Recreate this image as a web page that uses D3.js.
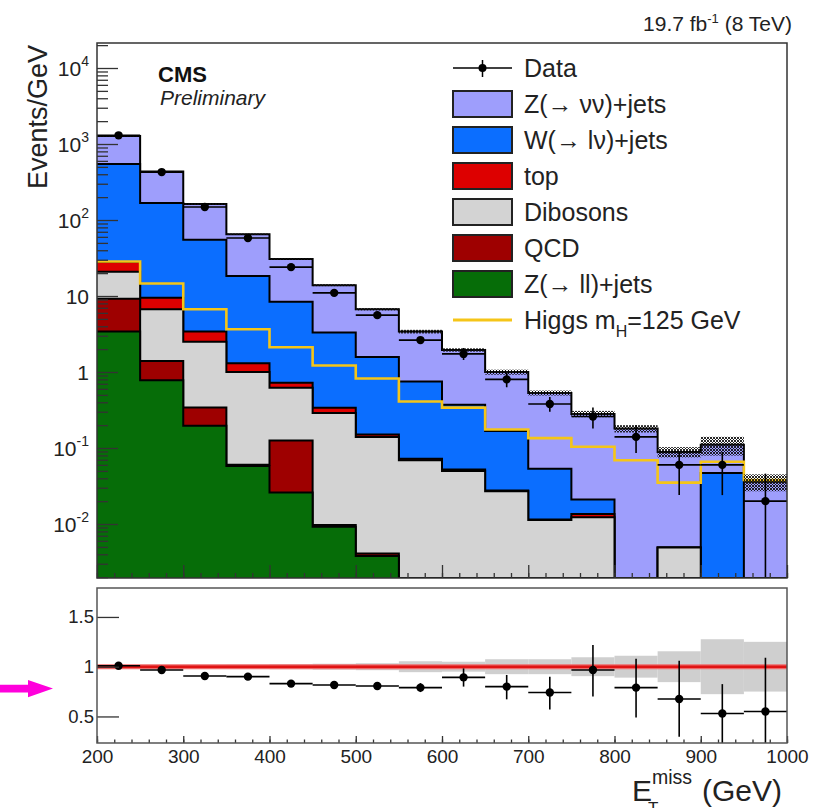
<!DOCTYPE html>
<html>
<head>
<meta charset="utf-8">
<script src="https://cdn.jsdelivr.net/npm/d3@7"></script>
<style>
  body { margin: 0; background: #fff; }
  svg { display: block; font-family: "Liberation Sans", Arial, Helvetica, sans-serif; }
</style>
</head>
<body>
<svg id="chart" width="818" height="808"></svg>
<script>
// ---- data: E_T^miss bins (GeV) and Events/GeV per process ----
const binEdges = [200, 250, 300, 350, 400, 450, 500, 550, 600, 650, 700, 750, 800, 850, 900, 950, 1000];

const zll      = [3.4, 0.78, 0.196, 0.058, 0.026, 0.0092, 0.0038, 0, 0, 0, 0, 0, 0, 0, 0, 0];
const qcd      = [5.8, 0.62, 0.144, 0.002, 0.10, 0.0005, 0.0003, 0.0002, 0, 0, 0, 0, 0, 0, 0, 0];
const dibosons = [11.6, 5.3, 2.16, 0.94, 0.494, 0.28, 0.136, 0.069, 0.05, 0.027, 0.0113, 0.0123, 0, 0.0049, 0, 0];
const topq     = [7.2, 2.8, 0.9, 0.3, 0.10, 0.05, 0.01, 0.003, 0.002, 0.0005, 0.0002, 0.0012, 0, 0, 0, 0];
const wjets    = [517, 157.5, 51.6, 17.0, 7.68, 2.96, 1.42, 0.68, 0.32, 0.14, 0.042, 0.0075, 0, 0, 0.047, 0];
const zvv      = [725, 268, 107, 46.7, 22.2, 10.6, 5.13, 2.65, 1.58, 0.83, 0.477, 0.26, 0.18, 0.084, 0.063, 0.036];

const higgs    = [28.5, 14.6, 6.7, 3.65, 2.12, 1.22, 0.82, 0.41, 0.34, 0.175, 0.135, 0.104, 0.069, 0.035, 0.066, 0.038];

const dataVal  = [1300, 427, 148, 58, 24, 11, 5.6, 2.63, 1.73, 0.8, 0.38, 0.26, 0.14, 0.06, 0.06, 0.02];
const dataLow  = [1290, 422, 145, 56.5, 23, 10.3, 5.2, 2.4, 1.44, 0.63, 0.30, 0.18, 0.086, 0.024, 0.024, 0.0017];
const dataHigh = [1310, 432, 151, 59.5, 25, 11.7, 6.0, 2.86, 2.07, 0.97, 0.47, 0.34, 0.20, 0.086, 0.089, 0.046];

// relative background uncertainty per bin
const bkgUnc   = [0.012, 0.015, 0.018, 0.02, 0.025, 0.03, 0.035, 0.055, 0.05, 0.075, 0.075, 0.095, 0.11, 0.155, 0.276, 0.25];

// data / background ratio
const ratio     = [1.01, 0.967, 0.906, 0.90, 0.83, 0.816, 0.806, 0.79, 0.893, 0.80, 0.74, 0.967, 0.79, 0.675, 0.53, 0.55];
const ratioLow  = [1.0, 0.955, 0.89, 0.88, 0.80, 0.785, 0.77, 0.745, 0.80, 0.672, 0.57, 0.70, 0.49, 0.295, 0, 0];
const ratioHigh = [1.02, 0.98, 0.92, 0.92, 0.86, 0.85, 0.845, 0.835, 0.983, 0.917, 0.90, 1.217, 1.08, 1.06, 0.825, 1.09];

const keys   = ["zll", "qcd", "dibosons", "top", "wjets", "zvv"];
const colors = { zll: "#066d08", qcd: "#9e0000", dibosons: "#d3d3d3", top: "#dd0000", wjets: "#0b6eff", zvv: "#9e9efc" };
const higgsColor = "#f5c518";

const xTickMajor = [200, 300, 400, 500, 600, 700, 800, 900, 1000];
const ratioTicks = [0.5, 1, 1.5];
const decades = [-2, -1, 0, 1, 2, 3, 4];

// ---- layout ----
const L = 97, R = 787;
const upTop = 43, upBot = 578;
const loTop = 588, loBot = 743;

const svg = d3.select("#chart");
const x  = d3.scaleLinear().domain([200, 1000]).range([L, R]);
const y  = d3.scaleLog().domain([0.001948, 21330]).range([upBot, upTop]).clamp(true);
const yr = d3.scaleLinear().domain([0.2332, 1.791]).range([loBot, loTop]);

const defs = svg.append("defs");
defs.append("clipPath").attr("id", "clipUp").append("rect")
  .attr("x", L).attr("y", upTop).attr("width", R - L).attr("height", upBot - upTop);
defs.append("clipPath").attr("id", "clipLo").append("rect")
  .attr("x", L).attr("y", loTop).attr("width", R - L).attr("height", loBot - loTop);
const pat = defs.append("pattern").attr("id", "hatch").attr("patternUnits", "userSpaceOnUse")
  .attr("width", 3).attr("height", 3);
pat.append("path").attr("d", "M0,3 L3,0 M0,0 L3,3").attr("stroke", "#111").attr("stroke-width", 0.9);

const bins = zvv.map((_, i) => ({
  lo: binEdges[i], hi: binEdges[i + 1],
  zll: zll[i], qcd: qcd[i], dibosons: dibosons[i], top: topq[i], wjets: wjets[i], zvv: zvv[i]
}));
const series = d3.stack().keys(keys)(bins);
const total = bins.map((b, i) => series[series.length - 1][i][1]);

const pos = v => Math.max(v, 1e-9);
const stepPts = vals => binEdges.map((e, i) => ({ e, v: vals[Math.min(i, vals.length - 1)] }));
const stepArea = d3.area().x(d => x(d.e)).y0(upBot).y1(d => y(pos(d.v))).curve(d3.curveStepAfter);
const stepLine = d3.line().x(d => x(d.e)).y(d => y(pos(d.v))).curve(d3.curveStepAfter);

// ---- upper panel ----
const up = svg.append("g").attr("clip-path", "url(#clipUp)");

// cumulative histograms, drawn from the total downwards
series.slice().reverse().forEach(s => {
  const cum = s.map(d => d[1]);
  up.append("path").attr("d", stepArea(stepPts(cum))).attr("fill", colors[s.key]);
  up.append("path").attr("d", stepLine(stepPts(cum))).attr("fill", "none")
    .attr("stroke", "#000").attr("stroke-width", 2);
});

// signal
up.append("path").attr("d", stepLine(stepPts(higgs))).attr("fill", "none")
  .attr("stroke", higgsColor).attr("stroke-width", 2.6);

// background uncertainty band
up.selectAll("rect.unc").data(bins).join("rect").attr("class", "unc")
  .attr("x", d => x(d.lo)).attr("width", d => x(d.hi) - x(d.lo))
  .attr("y", (d, i) => y(total[i] * (1 + bkgUnc[i])))
  .attr("height", (d, i) => y(total[i] * (1 - bkgUnc[i])) - y(total[i] * (1 + bkgUnc[i])))
  .attr("fill", "url(#hatch)");

// data
const dUp = up.append("g").attr("stroke", "#000").attr("stroke-width", 1.6);
bins.forEach((b, i) => {
  const cx = x((b.lo + b.hi) / 2);
  dUp.append("line").attr("x1", x(b.lo)).attr("x2", x(b.hi)).attr("y1", y(dataVal[i])).attr("y2", y(dataVal[i]));
  dUp.append("line").attr("x1", cx).attr("x2", cx).attr("y1", y(dataLow[i])).attr("y2", y(dataHigh[i]));
  dUp.append("circle").attr("cx", cx).attr("cy", y(dataVal[i])).attr("r", 4.2).attr("fill", "#000").attr("stroke", "none");
});

// upper axes (ticks pointing inwards)
const minorY = [];
for (let k = -3; k <= 4; k++) for (let m = 2; m <= 9; m++) {
  const v = m * Math.pow(10, k);
  if (v >= y.domain()[0] && v <= y.domain()[1]) minorY.push(v);
}
const tickStyle = g => { g.select(".domain").remove(); g.selectAll("line").attr("stroke", "#333").attr("stroke-width", 1.3); };
svg.append("g").attr("transform", `translate(${L},0)`)
  .call(d3.axisLeft(y).tickValues(decades.map(k => Math.pow(10, k))).tickSize(-21).tickFormat(""))
  .call(tickStyle);
svg.append("g").attr("transform", `translate(${L},0)`)
  .call(d3.axisLeft(y).tickValues(minorY).tickSize(-11).tickFormat(""))
  .call(tickStyle);

const minorX = d3.range(200, 1001, 20);
svg.append("g").attr("transform", `translate(0,${upBot})`)
  .call(d3.axisBottom(x).tickValues(minorX).tickSize(-5).tickFormat("")).call(tickStyle);
svg.append("g").attr("transform", `translate(0,${upBot})`)
  .call(d3.axisBottom(x).tickValues(xTickMajor).tickSize(-13).tickFormat("")).call(tickStyle);

// decade labels
decades.forEach(k => {
  const t = svg.append("text").attr("x", 89).attr("y", y(Math.pow(10, k)) + 8)
    .attr("text-anchor", "end").attr("font-size", 21).attr("fill", "#222");
  if (k === 0) t.text("1");
  else if (k === 1) t.text("10");
  else {
    t.append("tspan").text("10");
    t.append("tspan").attr("dy", -10).attr("font-size", 14).text(String(k));
  }
});

svg.append("rect").attr("x", L).attr("y", upTop).attr("width", R - L).attr("height", upBot - upTop)
  .attr("fill", "none").attr("stroke", "#333").attr("stroke-width", 1.5);

// ---- lower panel ----
const lo = svg.append("g").attr("clip-path", "url(#clipLo)");
lo.selectAll("rect.band").data(bins).join("rect").attr("class", "band")
  .attr("x", d => x(d.lo)).attr("width", d => x(d.hi) - x(d.lo))
  .attr("y", (d, i) => yr(1 + bkgUnc[i]))
  .attr("height", (d, i) => yr(1 - bkgUnc[i]) - yr(1 + bkgUnc[i]))
  .attr("fill", "#cfcfcf");
lo.append("line").attr("x1", L).attr("x2", R).attr("y1", yr(1)).attr("y2", yr(1))
  .attr("stroke", "#ef6a6a").attr("stroke-width", 5);
lo.append("line").attr("x1", L).attr("x2", R).attr("y1", yr(1)).attr("y2", yr(1))
  .attr("stroke", "#e01414").attr("stroke-width", 2.6);

const dLo = lo.append("g").attr("stroke", "#000").attr("stroke-width", 1.6);
bins.forEach((b, i) => {
  const cx = x((b.lo + b.hi) / 2);
  dLo.append("line").attr("x1", x(b.lo)).attr("x2", x(b.hi)).attr("y1", yr(ratio[i])).attr("y2", yr(ratio[i]));
  dLo.append("line").attr("x1", cx).attr("x2", cx).attr("y1", yr(ratioLow[i])).attr("y2", yr(ratioHigh[i]));
  dLo.append("circle").attr("cx", cx).attr("cy", yr(ratio[i])).attr("r", 4.2).attr("fill", "#000").attr("stroke", "none");
});

svg.append("g").attr("transform", `translate(${L},0)`)
  .call(d3.axisLeft(yr).tickValues(ratioTicks).tickSize(-22).tickPadding(3).tickFormat(d => String(d)))
  .call(tickStyle)
  .call(g => g.selectAll("text").attr("font-size", 18.5).attr("fill", "#222")
    .attr("font-family", "'Liberation Sans', Arial, sans-serif"));

svg.append("g").attr("transform", `translate(0,${loBot})`)
  .call(d3.axisBottom(x).tickValues(minorX).tickSize(-3.5).tickFormat("")).call(tickStyle);
svg.append("g").attr("transform", `translate(0,${loBot})`)
  .call(d3.axisBottom(x).tickValues(xTickMajor).tickSize(-7).tickPadding(6.5).tickFormat(d => String(d)))
  .call(tickStyle)
  .call(g => g.selectAll("text").attr("font-size", 19).attr("fill", "#222")
    .attr("font-family", "'Liberation Sans', Arial, sans-serif"));

svg.append("rect").attr("x", L).attr("y", loTop).attr("width", R - L).attr("height", loBot - loTop)
  .attr("fill", "none").attr("stroke", "#555").attr("stroke-width", 1.5);

// ---- titles and labels ----
svg.append("text").attr("transform", "translate(47,45) rotate(-90)").attr("text-anchor", "end")
  .attr("font-size", 27).attr("fill", "#222").text("Events/GeV");

const xt = svg.append("text").attr("x", 632).attr("y", 801).attr("font-size", 30).attr("fill", "#222");
xt.append("tspan").text("E");
xt.append("tspan").attr("x", 652).attr("y", 784).attr("font-size", 19.5).text("miss");
xt.append("tspan").attr("x", 648).attr("y", 814).attr("font-size", 17).text("T");
xt.append("tspan").attr("x", 702).attr("y", 801).text("(GeV)");

const lumi = svg.append("text").attr("x", 792).attr("y", 31).attr("text-anchor", "end")
  .attr("font-size", 21).attr("fill", "#222");
lumi.append("tspan").text("19.7 fb");
lumi.append("tspan").attr("dy", -8).attr("font-size", 13).text("-1");
lumi.append("tspan").attr("dy", 8).text(" (8 TeV)");

svg.append("text").attr("x", 158).attr("y", 82).attr("font-size", 22).attr("font-weight", "bold")
  .attr("fill", "#111").text("CMS");
svg.append("text").attr("x", 160).attr("y", 105).attr("font-size", 21).attr("font-style", "italic")
  .attr("fill", "#222").text("Preliminary");

// ---- legend ----
const legendRows = [
  { label: "Data", kind: "data" },
  { label: "Z(\u2192 \u03bd\u03bd)+jets", kind: "box", key: "zvv" },
  { label: "W(\u2192 l\u03bd)+jets", kind: "box", key: "wjets" },
  { label: "top", kind: "box", key: "top" },
  { label: "Dibosons", kind: "box", key: "dibosons" },
  { label: "QCD", kind: "box", key: "qcd" },
  { label: "Z(\u2192 ll)+jets", kind: "box", key: "zll" },
  { label: "Higgs", kind: "line" }
];
const legY0 = 68, legDy = 36.0, legX = 453, legW = 59, legH = 26;
legendRows.forEach((r, i) => {
  const cy = legY0 + i * legDy;
  if (r.kind === "box") {
    svg.append("rect").attr("x", legX).attr("y", cy - legH / 2).attr("width", legW).attr("height", legH)
      .attr("fill", colors[r.key]).attr("stroke", "#222").attr("stroke-width", 2);
  } else if (r.kind === "data") {
    svg.append("line").attr("x1", legX).attr("x2", legX + legW).attr("y1", cy).attr("y2", cy)
      .attr("stroke", "#000").attr("stroke-width", 1.5);
    svg.append("line").attr("x1", legX + legW / 2).attr("x2", legX + legW / 2).attr("y1", cy - 8).attr("y2", cy + 9)
      .attr("stroke", "#000").attr("stroke-width", 1.5);
    svg.append("circle").attr("cx", legX + legW / 2).attr("cy", cy).attr("r", 4).attr("fill", "#000");
  } else {
    svg.append("line").attr("x1", legX).attr("x2", legX + legW).attr("y1", cy).attr("y2", cy)
      .attr("stroke", higgsColor).attr("stroke-width", 3);
  }
  const t = svg.append("text").attr("x", 524).attr("y", cy + 9).attr("font-size", 25).attr("fill", "#222");
  if (r.kind === "line") {
    t.append("tspan").text("Higgs m");
    t.append("tspan").attr("dy", 8).attr("font-size", 16).text("H");
    t.append("tspan").attr("dy", -8).text("=125 GeV");
  } else {
    t.text(r.label);
  }
});

// ---- pointer arrow beside the ratio panel ----
svg.append("path")
  .attr("d", "M0,684.8 L28,684.8 L28,680 L53,688.6 L28,697.2 L28,692.5 L0,692.5 Z")
  .attr("fill", "#ff00dc");
</script>
</body>
</html>
